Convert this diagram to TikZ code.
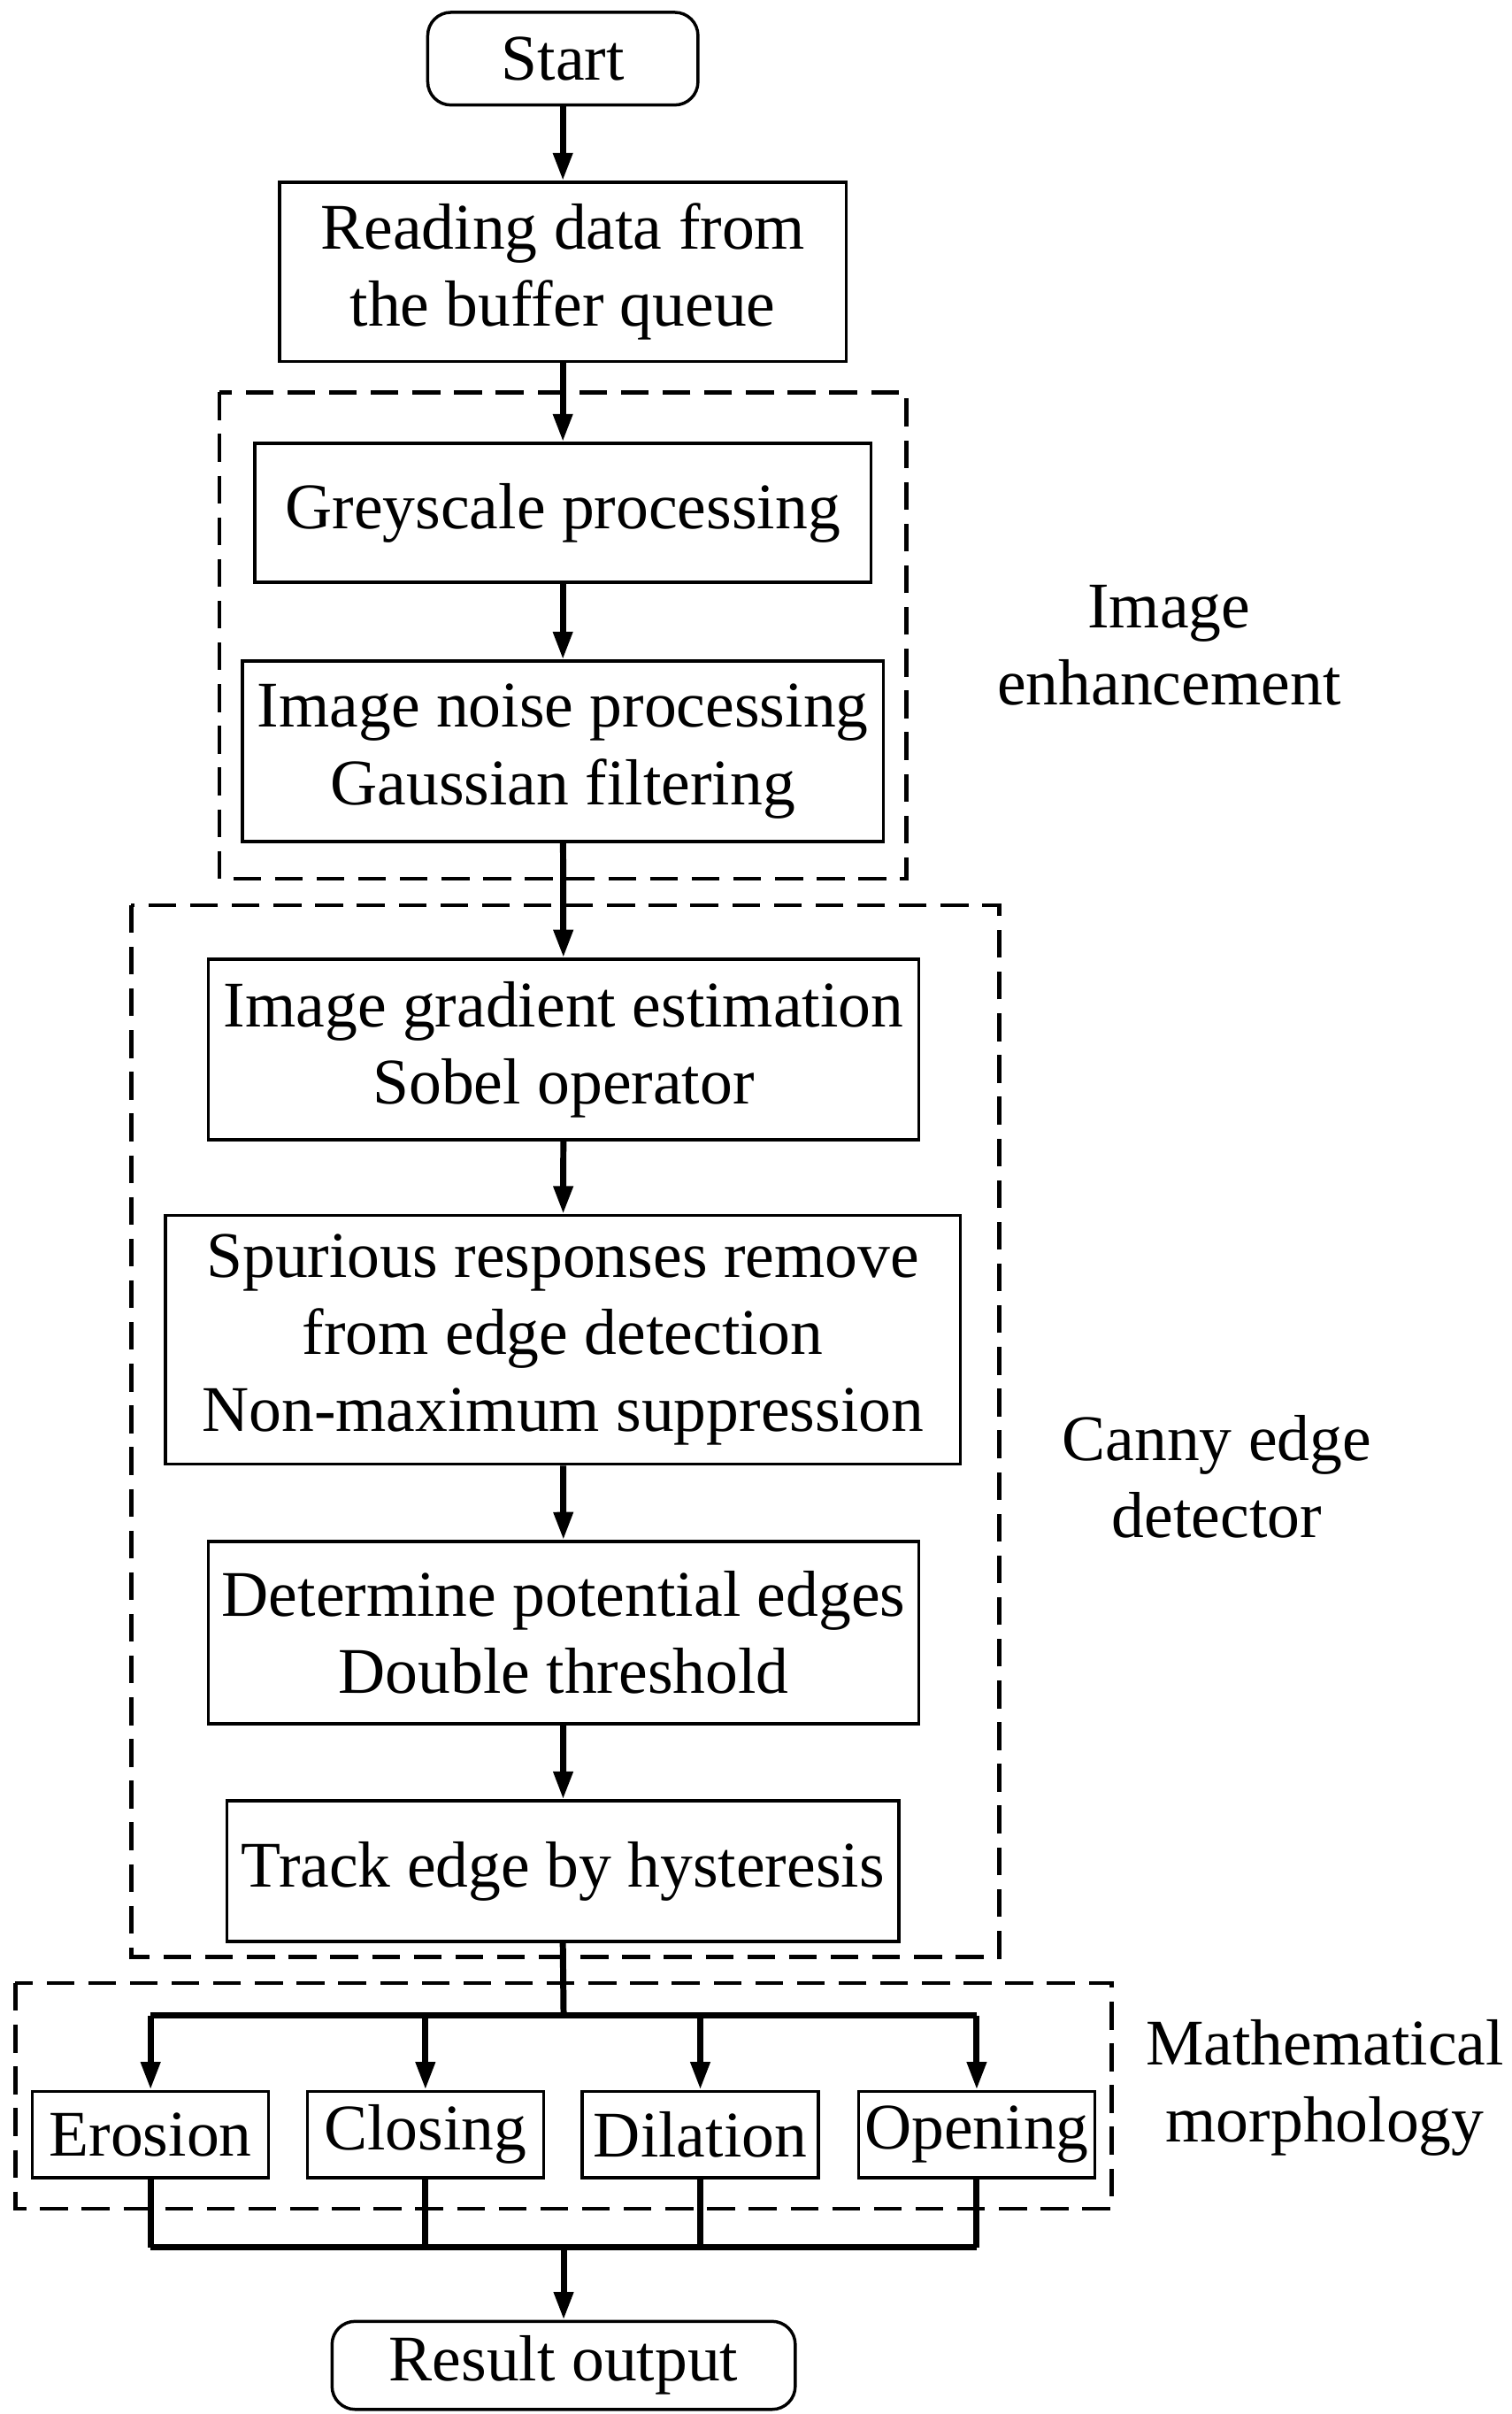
\documentclass[tikz,border=0pt]{standalone}
\usepackage{fontspec}
\setmainfont{Liberation Serif}
\usetikzlibrary{arrows.meta}
\begin{document}
\begin{tikzpicture}[x=0.05cm,y=-0.05cm,
  every node/.style={font=\fontsize{60}{71}\selectfont, align=center, inner sep=0pt},
  box/.style={draw, line width=0.1cm},
  term/.style={draw, line width=0.1cm, rounded corners=0.75cm},
  grp/.style={draw, line width=0.13cm, dash pattern=on 0.9cm off 0.45cm},
  conn/.style={line width=0.2cm},
  arr/.style={conn, -{Triangle[length=0.9cm,width=0.6cm]}}]
\useasboundingbox (0,0) rectangle (979,1563);
\newcommand\bx[6]{\node[#1, minimum width={(#4-#3)*0.05cm}, minimum height={(#6-#5)*0.05cm}] (#2) at ({(#3+#4)/2},{(#5+#6)/2}) {};}
\bx{term}{start}{277}{452}{8}{68}
\node at (start) {Start};
\bx{box}{read}{181}{548}{118}{234}
\node at (read) {Reading data from\\the buffer queue};
\draw[grp] (142,254) rectangle (587,569);
\bx{box}{grey}{165}{564}{287}{377}
\node at (grey) {Greyscale processing};
\bx{box}{noise}{157}{572}{428}{545}
\node at (noise) {Image noise processing\\Gaussian filtering};
\node (lab1) at (757,418) {Image\\enhancement};
\draw[grp] (85,586) rectangle (647,1267);
\bx{box}{grad}{135}{595}{621}{738}
\node at (grad) {Image gradient estimation\\Sobel operator};
\bx{box}{spur}{107}{622}{787}{948}
\node at (spur) {Spurious responses remove\\from edge detection\\Non-maximum suppression};
\bx{box}{det}{135}{595}{998}{1116}
\node at (det) {Determine potential edges\\Double threshold};
\bx{box}{track}{147}{582}{1166}{1257}
\node at (track) {Track edge by hysteresis};
\node (lab2) at (788,956) {Canny edge\\detector};
\draw[grp] (10,1284) rectangle (720,1430);
\bx{box}{ero}{21}{174}{1354}{1410}
\node at (ero) {Erosion};
\bx{box}{clo}{199}{352}{1354}{1410}
\node at (clo) {Closing};
\bx{box}{dil}{377}{530}{1354}{1410}
\node at (dil) {Dilation};
\bx{box}{ope}{556}{709}{1354}{1410}
\node at (ope) {Opening};
\node (lab3) at (858,1352) {Mathematical\\morphology};
\bx{term}{res}{215}{515}{1503}{1560}
\node at (res) {Result output};
\draw[arr] (start) -- (read);
\draw[arr] (read) -- (grey);
\draw[arr] (grey) -- (noise);
\draw[arr] (noise) -- (grad);
\draw[arr] (grad) -- (spur);
\draw[arr] (spur) -- (det);
\draw[arr] (det) -- (track);
\coordinate (bt) at (365,1305);
\coordinate (bb) at (365,1455);
\draw[conn] (track.south) -- (bt);
\draw[conn] (ero.north|-bt) -- (ope.north|-bt);
\foreach \n in {ero,clo,dil,ope} \draw[arr] (\n.north|-bt) -- (\n.north);
\draw[conn] (ero.south|-bb) -- (ope.south|-bb);
\foreach \n in {ero,clo,dil,ope} \draw[conn] (\n.south) -- (\n.south|-bb);
\draw[arr] (bb) -- (res);
\end{tikzpicture}
\end{document}
